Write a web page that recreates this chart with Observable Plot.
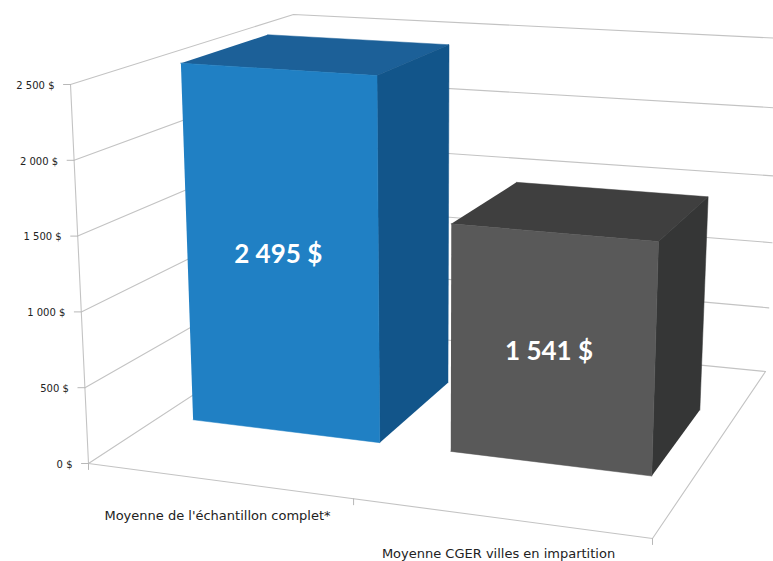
<!DOCTYPE html>
<html lang="fr">
<head>
<meta charset="utf-8">
<script src="https://cdn.jsdelivr.net/npm/d3@7"></script>
<script src="https://cdn.jsdelivr.net/npm/@observablehq/plot@0.6"></script>
<style>
html,body{margin:0;padding:0;background:#fff}
svg{display:block}
</style>
</head>
<body>
<div id="chart"></div>
<script>
const categories = ["Moyenne de l'échantillon complet*", "Moyenne CGER villes en impartition"];
const values = [2495, 1541];
const valueLabels = ["2 495 $", "1 541 $"];
const ticks = [0, 500, 1000, 1500, 2000, 2500];
const tickLabels = ["0 $", "500 $", "1 000 $", "1 500 $", "2 000 $", "2 500 $"];
const frontColors = ["#2080c4", "#595959"];
const topColors = ["#1c6098", "#3f3f3f"];
const sideColors = ["#12558a", "#353636"];
const barSpansU = [[0.06, 0.412], [0.546, 0.925]];
const barSpanW = [0.345, 0.745];
const categoryBoundaries = [0, 0.47, 1];
const categoryLabelAt = [[217, 515], [498, 553]];
const barLabelNudge = [[-4.5, 3], [-4, 3]];

// Projection of the chart's 3D box (u across, value up, w in depth) onto the page.
const vMax = 2500;
const box = {
  floor: {fl: [88, 463], fr: [652, 538], br: [765, 371], bl: [299, 325]},
  roof: {fl: [70, 84], fr: [663, 125], br: [782, 38], bl: [293, 14]}
};
const bil = (q, u, w, i) =>
  q.fl[i] * (1 - u) * (1 - w) + q.fr[i] * u * (1 - w) + q.br[i] * u * w + q.bl[i] * (1 - u) * w;
function project(u, v, w) {
  const s = v / vMax;
  const t = s - 0.055 * w * s * (1 - s); // foreshortening toward the back wall
  return {
    x: bil(box.floor, u, w, 0) * (1 - t) + bil(box.roof, u, w, 0) * t,
    y: bil(box.floor, u, w, 1) * (1 - t) + bil(box.roof, u, w, 1) * t
  };
}

const lines = [];
const addLine = (id, ...pts) => pts.forEach(([u, v, w]) => lines.push({id, ...project(u, v, w)}));
ticks.forEach(t => {
  addLine("grid" + t, [0, t, 0], [0, t, 1], [1, t, 1]);
});
addLine("axisV", [0, 0, 0], [0, vMax, 0]);
addLine("front", [0, 0, 0], [1, 0, 0], [1, 0, 1]);

const tickMarks = [];
ticks.forEach(t => {
  const p = project(0, t, 0);
  tickMarks.push({id: "t" + t, x: p.x - 7, y: p.y}, {id: "t" + t, x: p.x, y: p.y});
});
categoryBoundaries.forEach((u, i) => {
  const p = project(u, 0, 0);
  tickMarks.push({id: "c" + i, x: p.x, y: p.y}, {id: "c" + i, x: p.x, y: p.y + 6});
});

const faces = [];
values.forEach((val, i) => {
  const [u0, u1] = barSpansU[i];
  const [w0, w1] = barSpanW;
  const face = (kind, color, pts) =>
    pts.forEach(([u, v, w]) => faces.push({face: i + kind, color, ...project(u, v, w)}));
  face("top", topColors[i], [[u0, val, w0], [u1, val, w0], [u1, val, w1], [u0, val, w1]]);
  face("side", sideColors[i], [[u1, 0, w0], [u1, val, w0], [u1, val, w1], [u1, 0, w1]]);
  face("front", frontColors[i], [[u0, 0, w0], [u1, 0, w0], [u1, val, w0], [u0, val, w0]]);
});

const barLabels = values.map((val, i) => {
  const p = project((barSpansU[i][0] + barSpansU[i][1]) / 2, val / 2, barSpanW[0]);
  return {text: valueLabels[i], x: p.x + barLabelNudge[i][0], y: p.y + barLabelNudge[i][1]};
});
const axisLabels = ticks.map((t, i) => {
  const p = project(0, t, 0);
  return {text: tickLabels[i], x: p.x - 16, y: p.y + 1};
});
const catLabels = categories.map((c, i) => ({text: c, x: categoryLabelAt[i][0], y: categoryLabelAt[i][1]}));

const plot = Plot.plot({
  width: 773,
  height: 561,
  margin: 0,
  x: {domain: [0, 773], range: [0, 773], axis: null},
  y: {domain: [0, 561], range: [0, 561], axis: null},
  color: {type: "identity"},
  style: {background: "#fff", fontFamily: "'DejaVu Sans', sans-serif"},
  marks: [
    Plot.line(lines, {x: "x", y: "y", z: "id", stroke: "#c3c3c3", strokeWidth: 1.1}),
    Plot.line(tickMarks, {x: "x", y: "y", z: "id", stroke: "#b8b8b8", strokeWidth: 1}),
    Plot.line(faces, {x: "x", y: "y", z: "face", fill: "color", stroke: "color", strokeWidth: 0.5}),
    Plot.text(axisLabels, {x: "x", y: "y", text: "text", textAnchor: "end", fontSize: 10, fill: "#222"}),
    Plot.text(catLabels, {x: "x", y: "y", text: "text", fontSize: 13, fill: "#222"}),
    Plot.text(barLabels, {x: "x", y: "y", text: "text", fontSize: 26, fontWeight: 700, fill: "#fff",
      fontFamily: "Lato, sans-serif"})
  ]
});
document.getElementById("chart").appendChild(plot);
</script>
</body>
</html>
